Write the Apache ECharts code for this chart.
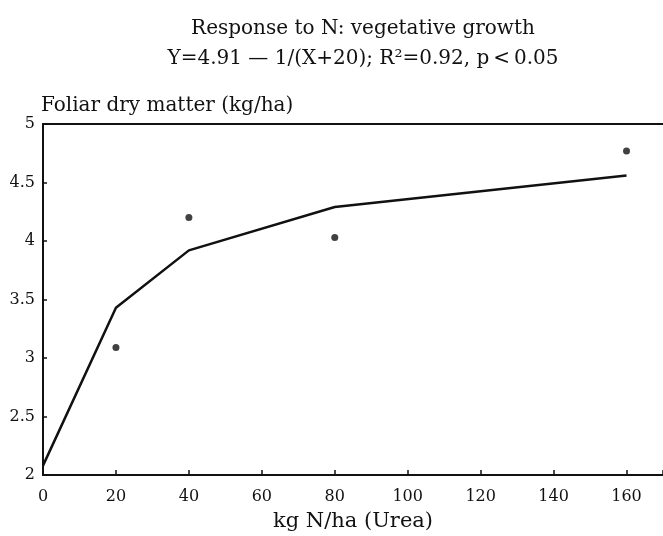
<!DOCTYPE html>
<html><head><meta charset="utf-8">
<script src="https://cdn.jsdelivr.net/npm/echarts@6/dist/echarts.min.js"></script>
<style>html,body{margin:0;padding:0;background:#fff}#c{width:663px;height:536px}</style>
</head><body><div id="c"></div>
<script>
const titleLines = ["Response to N: vegetative growth", "Y=4.91 \u2014 1/(X+20); R\u00b2=0.92, p\u2009<\u20090.05"];
const xName = "kg N/ha (Urea)";
const yName = "Foliar dry matter (kg/ha)";
const obsX = [20, 40, 80, 160];
const obsY = [3.09, 4.20, 4.03, 4.77];
const fitX = [0, 20, 40, 80, 160];
const fitY = [2.08, 3.43, 3.92, 4.29, 4.56];
const xTicks = [0, 20, 40, 60, 80, 100, 120, 140, 160];
const yTicks = [2, 2.5, 3, 3.5, 4, 4.5, 5];

const FONT = "'DejaVu Serif', serif";
const chart = echarts.init(document.getElementById('c'), null, {renderer: 'canvas'});
chart.setOption({
  animation: false,
  backgroundColor: '#fff',
  title: {
    text: titleLines[0] + "\n" + titleLines[1],
    left: 358, top: 9, textAlign: 'center',
    textStyle: {fontFamily: FONT, fontSize: 20, fontWeight: 'normal', color: '#111', lineHeight: 30}
  },
  grid: {left: 43, right: 0, top: 124, bottom: 61, containLabel: false, outerBoundsMode: 'none'},
  xAxis: [{
    type: 'value', min: 0, max: 170, interval: 20,
    name: xName, nameLocation: 'middle', nameGap: 36,
    nameTextStyle: {fontFamily: FONT, fontSize: 21, color: '#111'},
    axisLine: {lineStyle: {color: '#111', width: 2}},
    axisTick: {inside: true, length: 5, lineStyle: {color: '#111', width: 1.5}},
    axisLabel: {fontFamily: FONT, fontSize: 16, color: '#111', margin: 14,
      formatter: v => xTicks.includes(v) ? String(v) : ''},
    splitLine: {show: false}
  }, {
    type: 'value', min: 0, max: 170, position: 'top',
    axisLine: {show: true, lineStyle: {color: '#111', width: 2}},
    axisTick: {show: false}, axisLabel: {show: false}, splitLine: {show: false}
  }],
  yAxis: {
    type: 'value', min: 2, max: 5, interval: 0.5,
    name: yName, nameLocation: 'end', nameGap: 8,
    nameTextStyle: {fontFamily: FONT, fontSize: 20, color: '#111', align: 'left', padding: [0, 0, 0, -2]},
    axisLine: {lineStyle: {color: '#111', width: 2}},
    axisTick: {inside: true, length: 4, lineStyle: {color: '#111', width: 1.5}},
    axisLabel: {fontFamily: FONT, fontSize: 16, color: '#111', margin: 8,
      formatter: v => yTicks.includes(v) ? String(v) : ''},
    splitLine: {show: false}
  },
  series: [{
    type: 'line', data: fitX.map((x, i) => [x, fitY[i]]),
    symbol: 'none', lineStyle: {color: '#111', width: 2.5}
  }, {
    type: 'scatter', data: obsX.map((x, i) => [x, obsY[i]]),
    symbol: 'circle', symbolSize: 7, itemStyle: {color: '#111'}
  }]
});
</script></body></html>
